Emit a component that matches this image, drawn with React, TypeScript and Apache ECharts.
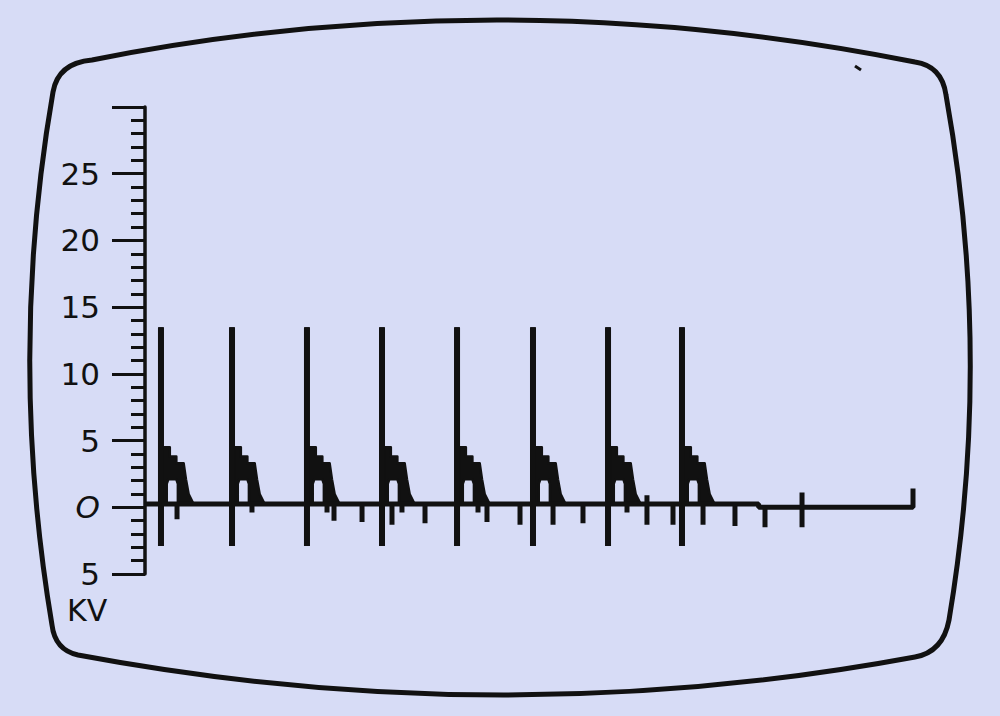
import React, { useEffect, useRef } from "react";
import * as echarts from "echarts";

// ---- data (time in sweep units 0..100, voltage in kV) ----
const SWEEP_MAX = 100;
const KV_MIN = -5;
const KV_MAX = 30;
const KV_STEP = 5;

// firing line (spark plug ignition voltage) of each of the 8 cylinders
const firingTimes = [2.08, 11.33, 21.09, 30.86, 40.63, 50.52, 60.29, 69.92];
const firingKV = [13.5, 13.5, 13.5, 13.5, 13.5, 13.5, 13.5, 13.5];
const firingLowKV = [-2.9, -2.9, -2.9, -2.9, -2.9, -2.9, -2.9, -2.9];

// spark line: stepped burn voltage and the times (after firing) of each step end
const sparkStepKV = [4.5, 3.8, 3.3];
const sparkStepEnd = [1.15, 2.0, 2.95];
// decay of the spark line tail: [time after firing, kV]
const sparkTail = [
  [3.25, 2.1],
  [3.6, 1.0],
  [4.2, 0.3],
];
// open window under the spark line: [start, end] after firing, and its top in kV
const sparkGap = [0.75, 2.2];
const sparkGapTopKV = 2.1;

// baseline voltage and the time where it drops to zero
const baselineKV = 0.25;
const baselineDropTime = 79.9;

// point-close / coil marks on the baseline: [time, low kV, high kV]
const baselineMarks = [
  [4.17, -0.9, 0.25],
  [13.93, -0.4, 0.25],
  [23.7, -0.4, 0.25],
  [24.61, -1.0, 0.25],
  [28.26, -1.1, 0.25],
  [32.16, -1.3, 0.25],
  [33.46, -0.4, 0.25],
  [36.46, -1.2, 0.25],
  [43.36, -0.4, 0.25],
  [44.53, -1.1, 0.25],
  [48.83, -1.3, 0.25],
  [53.13, -1.3, 0.25],
  [57.03, -1.2, 0.25],
  [62.76, -0.4, 0.25],
  [65.36, -1.3, 0.9],
  [68.75, -1.3, 0.25],
  [72.66, -1.3, 0.25],
  [76.82, -1.4, 0.25],
  [80.73, -1.5, 0.0],
  [85.55, -1.5, 1.1],
  [100.0, 0.0, 1.4],
];

const unitLabel = "KV";

// CRT screen outline
const screenPath =
  "M 92 60 Q 500 -21 915 62 Q 942 66 946 95 Q 993 357 949 620 Q 943 652 915 657 Q 500 734 78 655 Q 55 650 52 625 Q 7 357 53 92 Q 58 63 92 60 Z";
echarts.graphic.registerShape("crtScreen", echarts.graphic.extendPath(screenPath, {}));

const INK = "#111111";
const BG = "#d7dcf6";
const FONT = "DejaVu Sans";

function baseAt(t: number) {
  return t < baselineDropTime ? baselineKV : 0;
}

function buildTrace() {
  type Ev = { t: number; low: number; high: number };
  const events: Ev[] = [];
  firingTimes.forEach((t, i) => events.push({ t, low: firingLowKV[i], high: firingKV[i] }));
  baselineMarks.forEach(([t, low, high]) => events.push({ t, low, high }));
  events.sort((a, b) => a.t - b.t);
  const pts: number[][] = [[0, baselineKV]];
  let dropped = false;
  for (const ev of events) {
    if (!dropped && ev.t > baselineDropTime) {
      pts.push([baselineDropTime, baselineKV], [baselineDropTime, 0]);
      dropped = true;
    }
    const b = baseAt(ev.t);
    pts.push([ev.t, b], [ev.t, ev.low], [ev.t, ev.high], [ev.t, b]);
  }
  return pts;
}

export default function App() {
  const ref = useRef<HTMLDivElement>(null);
  useEffect(() => {
    if (!ref.current) return;
    const chart = echarts.init(ref.current, null, { renderer: "svg" });
    const trace = buildTrace();
    const option: any = {
      animation: false,
      backgroundColor: BG,
      grid: { left: 145, right: 87, top: 107, bottom: 142, outerBoundsMode: "none" },
      xAxis: {
        type: "value",
        min: 0,
        max: SWEEP_MAX,
        show: false,
      },
      yAxis: {
        type: "value",
        min: KV_MIN,
        max: KV_MAX,
        interval: KV_STEP,
        axisLine: { show: true, onZero: false, lineStyle: { color: INK, width: 3.5 } },
        axisTick: { show: true, length: 33, lineStyle: { color: INK, width: 3 } },
        minorTick: { show: true, splitNumber: 5, length: 14, lineStyle: { color: INK, width: 3 } },
        splitLine: { show: false },
        minorSplitLine: { show: false },
        axisLabel: {
          margin: 45,
          color: INK,
          fontSize: 31,
          fontFamily: FONT,
          formatter: (v: number) => {
            if (v === KV_MAX) return "";
            if (v === 0) return "{z|O}";
            return String(Math.abs(v));
          },
          rich: {
            z: { fontStyle: "italic", fontSize: 31, fontFamily: FONT, color: INK },
          },
        },
      },
      graphic: [
        {
          type: "crtScreen",
          x: 0,
          y: 0,
          silent: true,
          style: { fill: "none", stroke: INK, lineWidth: 5 },
        },
        {
          type: "line",
          silent: true,
          shape: { x1: 855, y1: 66, x2: 861, y2: 70 },
          style: { stroke: INK, lineWidth: 3 },
        },
        {
          type: "text",
          left: 67,
          top: 595,
          silent: true,
          style: { text: unitLabel, fontSize: 30, fontFamily: FONT, fill: INK },
        },
      ],
      series: [
        {
          type: "custom",
          coordinateSystem: "cartesian2d",
          data: firingTimes.map((t) => [t, sparkStepKV[0]]),
          encode: { x: 0, y: 1 },
          clip: false,
          renderItem: (params: any, api: any) => {
            const s = api.value(0);
            const b = baseAt(s);
            const d: number[][] = [
              [s, b],
              [s, sparkStepKV[0]],
              [s + sparkStepEnd[0], sparkStepKV[0]],
              [s + sparkStepEnd[0], sparkStepKV[1]],
              [s + sparkStepEnd[1], sparkStepKV[1]],
              [s + sparkStepEnd[1], sparkStepKV[2]],
              [s + sparkStepEnd[2], sparkStepKV[2]],
              ...sparkTail.map(([dt, kv]) => [s + dt, kv]),
              [s + sparkTail[sparkTail.length - 1][0], b],
              [s + sparkGap[1], b],
              [s + sparkGap[1], sparkGapTopKV - 0.35],
              [s + sparkGap[1] - 0.2, sparkGapTopKV],
              [s + sparkGap[0] + 0.2, sparkGapTopKV],
              [s + sparkGap[0], sparkGapTopKV - 0.35],
              [s + sparkGap[0], b],
            ];
            return {
              type: "polygon",
              shape: { points: d.map((p) => api.coord(p)) },
              style: { fill: INK, stroke: INK, lineWidth: 2.5, lineJoin: "round" },
            };
          },
        },
        {
          type: "line",
          data: trace,
          showSymbol: false,
          symbol: "none",
          clip: false,
          lineStyle: { color: INK, width: 5 },
        },
        {
          type: "custom",
          coordinateSystem: "cartesian2d",
          data: firingTimes.map((t, i) => [t, firingKV[i], firingLowKV[i]]),
          encode: { x: 0, y: [1, 2] },
          clip: false,
          renderItem: (params: any, api: any) => {
            const top = api.coord([api.value(0), api.value(1)]);
            const bot = api.coord([api.value(0), api.value(2)]);
            return {
              type: "line",
              shape: { x1: top[0], y1: top[1], x2: bot[0], y2: bot[1] },
              style: { stroke: INK, lineWidth: 6 },
            };
          },
        },
      ],
    };
    chart.setOption(option);
    return () => chart.dispose();
  }, []);
  return (
    <div
      ref={ref}
      style={{ position: "absolute", left: 0, top: 0, width: 1000, height: 716, background: BG }}
    />
  );
}
